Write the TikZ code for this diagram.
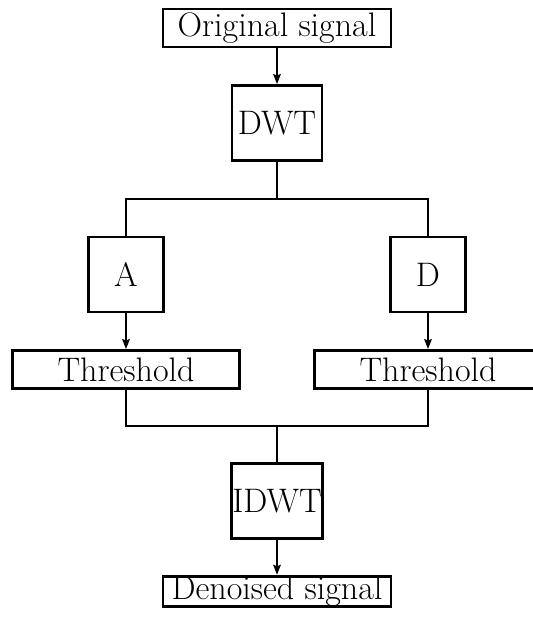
\documentclass[tikz,border=0pt]{standalone}
\usetikzlibrary{arrows.meta}
\begin{document}
\begin{tikzpicture}[x=1bp,y=-1bp,
  box/.style={draw,line width=2.8bp,inner sep=0pt,font=\fontsize{34bp}{40bp}\selectfont},
  conn/.style={line width=2.8bp},
  arr/.style={conn,-{Stealth[length=10bp,width=7.5bp,inset=1.5bp]}}]
\useasboundingbox (0,0) rectangle (533,617);
\node[box,minimum width=228bp,minimum height=38bp] (orig) at (277,28) {Original signal};
\node[box,minimum width=90bp,minimum height=75bp] (dwt) at (277,123) {DWT};
\node[box,minimum width=75bp,minimum height=75bp] (A) at (126,274.5) {A};
\node[box,minimum width=75bp,minimum height=75bp] (D) at (428,274.5) {D};
\node[box,minimum width=227bp,minimum height=38bp] (th1) at (126,369.5) {Threshold};
\node[box,minimum width=227bp,minimum height=38bp] (th2) at (428,369.5) {Threshold};
\node[box,minimum width=91bp,minimum height=75bp] (idwt) at (277,501) {IDWT};
\node[box,minimum width=228bp,minimum height=29bp] (den) at (277,591.5) {Denoised signal};
\coordinate (s) at (277,199);
\coordinate (m) at (277,426);
\draw[arr] (orig.south) -- (dwt.north);
\draw[conn] (dwt.south) -- (s);
\draw[conn] (A.north) |- (s) -| (D.north);
\draw[arr] (A.south) -- (th1.north);
\draw[arr] (D.south) -- (th2.north);
\draw[conn] (th1.south) |- (m) -| (th2.south);
\draw[conn] (m) -- (idwt.north);
\draw[arr] (idwt.south) -- (den.north);
\end{tikzpicture}
\end{document}
